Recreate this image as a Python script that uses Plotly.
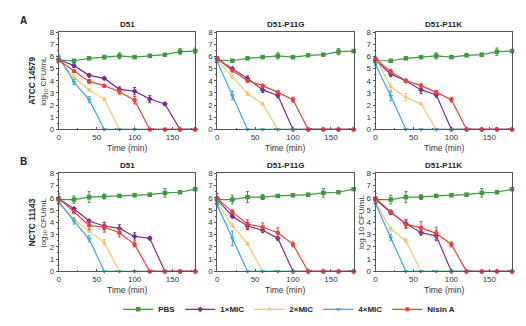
import plotly.graph_objects as go

time_min = [0, 20, 40, 60, 80, 100, 120, 140, 160, 180]
series_names = ["PBS", "1×MIC", "2×MIC", "4×MIC", "Nisin A"]
panel_titles = ["D51", "D51-P11G", "D51-P11K"]
strain_labels = ["ATCC 14579", "NCTC 11143"]
x_ticks = [0, 50, 100, 150]
y_ticks = [0, 1, 2, 3, 4, 5, 6, 7, 8]

# ---- ATCC 14579 ----
a_d51_pbs = [5.7, 5.65, 5.85, 5.95, 6.05, 5.95, 6.05, 6.15, 6.4, 6.45]
a_d51_1x = [5.75, 5.25, 4.45, 4.2, 3.3, 3.15, 2.5, 2.1, 0, 0]
a_d51_2x = [5.7, 4.3, 3.25, 2.5, 0, 0, 0, 0, 0, 0]
a_d51_4x = [6.0, 3.9, 2.45, 0, 0, 0, 0, 0, 0, 0]
a_d51_nis = [5.7, 4.8, 3.95, 3.6, 3.1, 2.4, 0, 0, 0, 0]

a_g_pbs = [5.7, 5.65, 5.85, 5.95, 6.05, 5.95, 6.1, 6.15, 6.4, 6.45]
a_g_1x = [5.8, 5.0, 4.2, 3.25, 2.8, 0, 0, 0, 0, 0]
a_g_2x = [5.7, 4.35, 2.95, 2.1, 0, 0, 0, 0, 0, 0]
a_g_4x = [5.6, 2.8, 0, 0, 0, 0, 0, 0, 0, 0]
a_g_nis = [5.85, 4.85, 4.0, 3.6, 3.05, 2.45, 0, 0, 0, 0]

a_k_pbs = [5.65, 5.65, 5.85, 5.95, 6.05, 5.95, 6.1, 6.15, 6.4, 6.45]
a_k_1x = [5.7, 4.55, 4.0, 3.25, 2.85, 0, 0, 0, 0, 0]
a_k_2x = [5.9, 3.5, 2.65, 2.1, 0, 0, 0, 0, 0, 0]
a_k_4x = [5.35, 2.75, 0, 0, 0, 0, 0, 0, 0, 0]
a_k_nis = [5.8, 4.75, 4.0, 3.6, 3.05, 2.45, 0, 0, 0, 0]

# ---- NCTC 11143 ----
b_d51_pbs = [5.85, 5.85, 6.05, 6.1, 6.15, 6.2, 6.25, 6.4, 6.45, 6.7]
b_d51_1x = [5.9, 5.1, 4.1, 3.7, 3.5, 2.85, 2.7, 0, 0, 0]
b_d51_2x = [5.5, 4.25, 3.3, 2.35, 0, 0, 0, 0, 0, 0]
b_d51_4x = [5.7, 4.1, 2.65, 0, 0, 0, 0, 0, 0, 0]
b_d51_nis = [5.95, 4.85, 3.75, 3.6, 3.15, 2.2, 0, 0, 0, 0]

b_g_pbs = [5.85, 5.85, 6.05, 6.05, 6.15, 6.2, 6.25, 6.4, 6.45, 6.7]
b_g_1x = [5.85, 4.5, 3.7, 3.35, 2.7, 0, 0, 0, 0, 0]
b_g_2x = [5.6, 3.75, 2.25, 0, 0, 0, 0, 0, 0, 0]
b_g_4x = [5.4, 2.7, 0, 0, 0, 0, 0, 0, 0, 0]
b_g_nis = [5.95, 4.85, 3.85, 3.6, 3.15, 2.2, 0, 0, 0, 0]

b_k_pbs = [5.85, 5.85, 6.05, 6.05, 6.15, 6.2, 6.25, 6.4, 6.45, 6.7]
b_k_1x = [5.85, 4.8, 3.9, 3.15, 2.9, 0, 0, 0, 0, 0]
b_k_2x = [5.6, 3.45, 2.5, 0, 0, 0, 0, 0, 0, 0]
b_k_4x = [5.5, 2.75, 0, 0, 0, 0, 0, 0, 0, 0]
b_k_nis = [5.95, 4.85, 3.85, 3.55, 3.1, 2.2, 0, 0, 0, 0]

# ---- error bars (SD) ----
ea_d51_pbs = [0.1, 0.1, 0.1, 0.15, 0.25, 0.1, 0.1, 0.1, 0.25, 0.25]
ea_d51_1x = [0.1, 0.15, 0.15, 0.1, 0.2, 0.3, 0.3, 0.1, 0, 0]
ea_d51_2x = [0.1, 0.15, 0.1, 0.1, 0, 0, 0, 0, 0, 0]
ea_d51_4x = [0.15, 0.2, 0.25, 0, 0, 0, 0, 0, 0, 0]
ea_d51_nis = [0.1, 0.1, 0.15, 0.1, 0.2, 0.3, 0, 0, 0, 0]

ea_g_pbs = [0.1, 0.1, 0.1, 0.1, 0.25, 0.1, 0.1, 0.1, 0.25, 0.1]
ea_g_1x = [0.15, 0.1, 0.2, 0.2, 0.2, 0, 0, 0, 0, 0]
ea_g_2x = [0.1, 0.15, 0.15, 0.1, 0, 0, 0, 0, 0, 0]
ea_g_4x = [0.1, 0.35, 0, 0, 0, 0, 0, 0, 0, 0]
ea_g_nis = [0.15, 0.1, 0.1, 0.1, 0.1, 0.2, 0, 0, 0, 0]

ea_k_pbs = [0.1, 0.1, 0.1, 0.1, 0.25, 0.1, 0.1, 0.1, 0.3, 0.1]
ea_k_1x = [0.15, 0.2, 0.1, 0.3, 0.2, 0, 0, 0, 0, 0]
ea_k_2x = [0.3, 0.3, 0.3, 0.1, 0, 0, 0, 0, 0, 0]
ea_k_4x = [0.15, 0.4, 0, 0, 0, 0, 0, 0, 0, 0]
ea_k_nis = [0.15, 0.2, 0.1, 0.15, 0.15, 0.2, 0, 0, 0, 0]

eb_d51_pbs = [0.2, 0.3, 0.45, 0.2, 0.1, 0.1, 0.1, 0.35, 0.1, 0.1]
eb_d51_1x = [0.2, 0.1, 0.15, 0.3, 0.3, 0.3, 0.1, 0, 0, 0]
eb_d51_2x = [0.2, 0.15, 0.15, 0.25, 0, 0, 0, 0, 0, 0]
eb_d51_4x = [0.2, 0.25, 0.25, 0, 0, 0, 0, 0, 0, 0]
eb_d51_nis = [0.4, 0.15, 0.35, 0.4, 0.35, 0.2, 0, 0, 0, 0]

eb_g_pbs = [0.2, 0.35, 0.45, 0.2, 0.1, 0.1, 0.1, 0.35, 0.1, 0.1]
eb_g_1x = [0.2, 0.15, 0.3, 0.2, 0.15, 0, 0, 0, 0, 0]
eb_g_2x = [0.2, 0.15, 0.15, 0, 0, 0, 0, 0, 0, 0]
eb_g_4x = [0.2, 0.6, 0, 0, 0, 0, 0, 0, 0, 0]
eb_g_nis = [0.4, 0.15, 0.35, 0.35, 0.4, 0.2, 0, 0, 0, 0]

eb_k_pbs = [0.2, 0.35, 0.45, 0.2, 0.1, 0.1, 0.1, 0.35, 0.1, 0.1]
eb_k_1x = [0.2, 0.15, 0.3, 0.2, 0.4, 0, 0, 0, 0, 0]
eb_k_2x = [0.2, 0.15, 0.15, 0, 0, 0, 0, 0, 0, 0]
eb_k_4x = [0.2, 0.25, 0, 0, 0, 0, 0, 0, 0, 0]
eb_k_nis = [0.4, 0.15, 0.35, 0.5, 0.5, 0.2, 0, 0, 0, 0]

colors = ["#3c9a3c", "#7a2c8c", "#f6c46e", "#36a7d9", "#e6413a"]
symbols = ["square", "diamond", "triangle-up", "triangle-down", "circle"]

panels = [
    [(a_d51_pbs, a_d51_1x, a_d51_2x, a_d51_4x, a_d51_nis),
     (a_g_pbs, a_g_1x, a_g_2x, a_g_4x, a_g_nis),
     (a_k_pbs, a_k_1x, a_k_2x, a_k_4x, a_k_nis)],
    [(b_d51_pbs, b_d51_1x, b_d51_2x, b_d51_4x, b_d51_nis),
     (b_g_pbs, b_g_1x, b_g_2x, b_g_4x, b_g_nis),
     (b_k_pbs, b_k_1x, b_k_2x, b_k_4x, b_k_nis)],
]
errors = [
    [(ea_d51_pbs, ea_d51_1x, ea_d51_2x, ea_d51_4x, ea_d51_nis),
     (ea_g_pbs, ea_g_1x, ea_g_2x, ea_g_4x, ea_g_nis),
     (ea_k_pbs, ea_k_1x, ea_k_2x, ea_k_4x, ea_k_nis)],
    [(eb_d51_pbs, eb_d51_1x, eb_d51_2x, eb_d51_4x, eb_d51_nis),
     (eb_g_pbs, eb_g_1x, eb_g_2x, eb_g_4x, eb_g_nis),
     (eb_k_pbs, eb_k_1x, eb_k_2x, eb_k_4x, eb_k_nis)],
]

W, H = 526, 326
col_px = [(57, 194), (216, 353), (375, 512)]
row_px = [(29, 129), (174, 275)]
FONT = "Liberation Sans, Arial, sans-serif"

fig = go.Figure()
layout = dict(
    width=W, height=H, margin=dict(l=0, r=0, t=0, b=0),
    paper_bgcolor="white", plot_bgcolor="white",
    font=dict(family=FONT, size=8, color="#222"),
    showlegend=True,
)
annotations = []

idx = 0
for r in range(2):
    for c in range(3):
        idx += 1
        xa = "x" if idx == 1 else f"x{idx}"
        ya = "y" if idx == 1 else f"y{idx}"
        x0, x1 = col_px[c]
        y0, y1 = row_px[r]
        axline = dict(showline=True, linecolor="#555", linewidth=1, mirror=True,
                      showgrid=False, zeroline=False,
                      tickfont=dict(size=8, color="#333"), tickcolor="#555")
        layout["xaxis" if idx == 1 else f"xaxis{idx}"] = dict(
            axline, domain=[x0 / W, x1 / W], range=[0, 180], tickvals=x_ticks,
            ticks="inside", ticklen=2, anchor=ya,
            minor=dict(dtick=25, tick0=0, ticks="inside", ticklen=1.5, tickcolor="#555"))
        layout["yaxis" if idx == 1 else f"yaxis{idx}"] = dict(
            axline, domain=[1 - y1 / H, 1 - y0 / H], range=[0, 8], tickvals=y_ticks,
            ticks="outside", ticklen=2, anchor=xa,
            minor=dict(dtick=0.5, ticks="outside", ticklen=1, tickcolor="#555"))
        for s in range(5):
            fig.add_trace(go.Scatter(
                x=time_min, y=panels[r][c][s], mode="lines+markers",
                name=series_names[s], legendgroup=series_names[s],
                showlegend=(idx == 1),
                line=dict(color=colors[s], width=1.2),
                marker=dict(color=colors[s], symbol=symbols[s], size=4.5),
                error_y=dict(type="data", array=errors[r][c][s], color=colors[s],
                             thickness=1, width=1.5),
                cliponaxis=False, xaxis=xa, yaxis=ya))
        annotations.append(dict(text=f"<b>{panel_titles[c]}</b>", xref="paper", yref="paper",
                                x=(x0 + x1) / 2 / W, y=1 - (y0 - 8) / H, showarrow=False,
                                font=dict(size=8, color="#222"), xanchor="center", yanchor="middle"))
        annotations.append(dict(text="Time (min)", xref="paper", yref="paper",
                                x=(x0 + x1) / 2 / W, y=1 - (y1 + 19.5) / H, showarrow=False,
                                font=dict(size=8.5, color="#333"), xanchor="center", yanchor="middle"))
    yc = (row_px[r][0] + row_px[r][1]) / 2
    annotations.append(dict(text=f"<b>{strain_labels[r]}</b>", xref="paper", yref="paper",
                            x=30 / W, y=1 - yc / H, textangle=-90, showarrow=False,
                            font=dict(size=8.3, color="#222"), xanchor="center", yanchor="middle"))
    annotations.append(dict(text="log<sub>10</sub> CFU/mL", xref="paper", yref="paper",
                            x=42 / W, y=1 - yc / H, textangle=-90, showarrow=False,
                            font=dict(size=8, color="#333"), xanchor="center", yanchor="middle"))
    annotations.append(dict(text="<b>" + "AB"[r] + "</b>", xref="paper", yref="paper",
                            x=22 / W, y=1 - (row_px[r][0] - 12) / H, showarrow=False,
                            font=dict(size=10, color="#222"), xanchor="center", yanchor="middle"))

# extra y title on bottom-right panel
annotations.append(dict(text="log 10 CFU/mL", xref="paper", yref="paper",
                        x=361 / W, y=1 - 224.5 / H, textangle=-90, showarrow=False,
                        font=dict(size=8, color="#333"), xanchor="center", yanchor="middle"))

layout["annotations"] = annotations
layout["legend"] = dict(orientation="h", x=0.548, y=12 / H, xanchor="center", yanchor="middle",
                        font=dict(size=8, color="#222", weight="bold"), itemwidth=30,
                        tracegroupgap=0, bgcolor="rgba(0,0,0,0)")
fig.update_layout(**layout)
fig.write_html("out.html")
